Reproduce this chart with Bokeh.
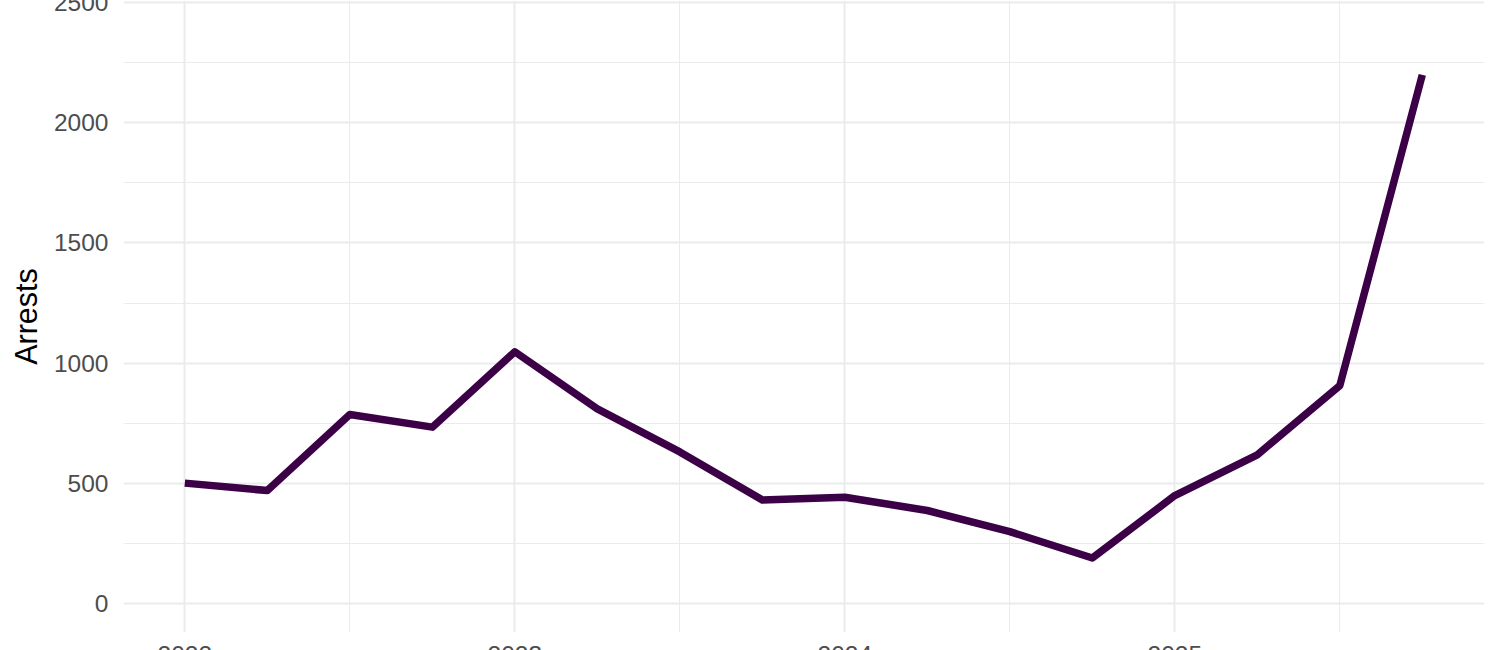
from bokeh.plotting import figure
from bokeh.models import FixedTicker, Range1d, ColumnDataSource
from bokeh.layouts import column
from bokeh.embed import file_html
from bokeh.resources import INLINE

# Quarterly arrests
quarter_years = [2022, 2022, 2022, 2022, 2023, 2023, 2023, 2023,
                 2024, 2024, 2024, 2024, 2025, 2025, 2025, 2025]
quarter_nums = [1, 2, 3, 4, 1, 2, 3, 4, 1, 2, 3, 4, 1, 2, 3, 4]
arrests = [500, 469, 786, 733, 1047, 809, 630, 430,
           441, 386, 298, 188, 448, 618, 906, 2200]

x_ticks = [2022, 2023, 2024, 2025]
x_minor_ticks = [2022.5, 2023.5, 2024.5, 2025.5]
y_ticks = [0, 500, 1000, 1500, 2000, 2500]
y_minor_ticks = [250, 750, 1250, 1750, 2250]
y_title = "Arrests"

x_vals = [y + (q - 1) / 4 for y, q in zip(quarter_years, quarter_nums)]
src = ColumnDataSource(dict(x=x_vals, y=arrests))

p = figure(width=1500, height=704, output_backend="svg", toolbar_location=None,
           x_range=Range1d(2021.8142, 2025.9385), y_range=Range1d(-122.0, 2509.6),
           min_border_left=123, min_border_right=16, min_border_top=14, min_border_bottom=58)
# the canvas starts 14px above the window so the window's top edge cuts "2500"
p.margin = (-14, 0, 0, 0)
p.outline_line_color = None
p.background_fill_color = "white"
p.border_fill_color = "white"

p.line("x", "y", source=src, line_color="#3C0047", line_width=7.5,
       line_join="round", line_cap="butt")

p.xaxis.ticker = FixedTicker(ticks=x_ticks, minor_ticks=x_minor_ticks)
p.yaxis.ticker = FixedTicker(ticks=y_ticks, minor_ticks=y_minor_ticks)
p.xaxis.major_label_overrides = {t: str(t) for t in x_ticks}

for ax in (p.xaxis, p.yaxis):
    ax.axis_line_color = None
    ax.major_tick_line_color = None
    ax.minor_tick_line_color = None
    ax.major_tick_out = 0
    ax.major_tick_in = 0
    ax.minor_tick_out = 0
    ax.minor_tick_in = 0
    ax.major_label_text_font = "Liberation Sans"
    ax.major_label_text_font_size = "24.5px"
    ax.major_label_text_color = "#4D4D4D"

p.xaxis.major_label_standoff = 13
p.yaxis.major_label_standoff = 15
p.yaxis.axis_label = y_title
p.yaxis.axis_label_text_font = "Liberation Sans"
p.yaxis.axis_label_text_font_size = "30.5px"
p.yaxis.axis_label_text_font_style = "normal"
p.yaxis.axis_label_text_color = "black"
p.yaxis.axis_label_standoff = 8

for g in (p.xgrid, p.ygrid):
    g.grid_line_color = "#EBEBEB"
    g.grid_line_width = 2
    g.minor_grid_line_color = "#EBEBEB"
    g.minor_grid_line_width = 1

# the window's bottom edge cuts the x tick labels, as in the reference
c = column(p, styles={"overflow": "hidden", "max-height": "650px"})

open("out.html", "w").write(file_html(c, INLINE))
